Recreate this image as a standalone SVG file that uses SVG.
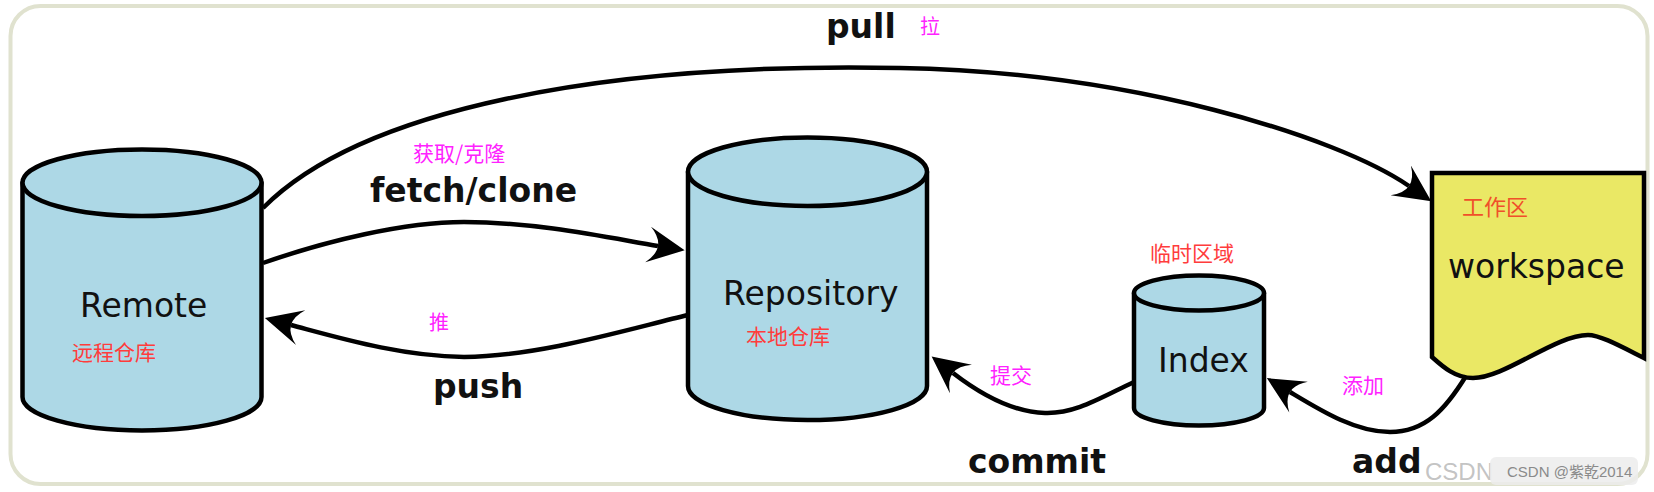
<svg xmlns="http://www.w3.org/2000/svg" width="1654" height="492" viewBox="0 0 1654 492">
<style>
.frame{fill:#ffffff;stroke:#e0e2cf;stroke-width:4}
.cyl{fill:#add8e6;stroke:#000;stroke-width:4.5;stroke-linejoin:round}
.ws{fill:#eae865;stroke:#000;stroke-width:4.5;stroke-linejoin:miter}
.conn{fill:none;stroke:#000;stroke-width:4.5}
.lbl{font-family:"DejaVu Sans","Liberation Sans",sans-serif;font-size:33px;fill:#111}
.op{font-family:"DejaVu Sans","Liberation Sans",sans-serif;font-size:33px;font-weight:bold;fill:#111}
.cn{font-family:"Noto Sans CJK SC","Noto Sans",sans-serif;font-size:21px}
.mag{fill:#ff22ff}
.red{fill:#ff3c3c}
.wm{font-family:"Liberation Sans","Noto Sans CJK SC",sans-serif}
</style>
<defs>
<marker id="ah" markerUnits="userSpaceOnUse" orient="auto" refX="0" refY="0" markerWidth="60" markerHeight="60" overflow="visible">
<path d="M27,0 L-10,18 Q10,0 -10,-18 Z" fill="#000"/>
</marker>
</defs>
<rect class="frame" x="10.5" y="6" width="1637" height="478" rx="30"/>

<g id="remote">
<path class="cyl" d="M22.5,182.75 L22.5,397 A119.5,33.5 0 0 0 261.5,397 L261.5,182.75 Z"/>
<ellipse class="cyl" cx="142" cy="182.75" rx="119.5" ry="33.25"/>
<text class="lbl" x="80" y="317">Remote</text>
<text class="cn red" x="72" y="360">远程仓库</text>
</g>

<g id="repository">
<path class="cyl" d="M688,171.75 L688,386 A119.5,34 0 0 0 927,386 L927,171.75 Z"/>
<ellipse class="cyl" cx="807.5" cy="171.75" rx="119.5" ry="34.25"/>
<text class="lbl" x="723" y="305">Repository</text>
<text class="cn red" x="746" y="344">本地仓库</text>
</g>

<g id="index">
<path class="cyl" d="M1134,293 L1134,408 A65,17.5 0 0 0 1264,408 L1264,293 Z"/>
<ellipse class="cyl" cx="1199" cy="293" rx="65" ry="17.5"/>
<text class="lbl" x="1158" y="372">Index</text>
<text class="cn red" x="1150" y="261">临时区域</text>
</g>

<g id="workspace">
<path class="ws" d="M1432,173 L1644,173 L1644,358 C1620,346 1600,335 1588,335 C1555,335 1505,378 1473,378 C1455,378 1442,366 1432,357 Z"/>
<text class="cn" x="1462" y="215" fill="#f0502a" style="font-size:22px">工作区</text>
<text class="lbl" x="1448" y="278">workspace</text>
</g>

<g id="connectors">
<path class="conn" marker-end="url(#ah)" d="M263,208 C360,110 600,62 900,68 C1130,72 1336,136 1409,186"/>
<path class="conn" marker-end="url(#ah)" d="M263,263 C326,241 404,222 464,222 C540,222 615,239 658,246"/>
<path class="conn" marker-end="url(#ah)" d="M688,315 C625,330 540,356 464,357 C400,356 340,338 291,325"/>
<path class="conn" marker-end="url(#ah)" d="M1134,382 C1100,398 1075,414 1045,413 C1010,412 975,390 953,373"/>
<path class="conn" marker-end="url(#ah)" d="M1466,376 C1445,410 1425,432 1390,432 C1355,432 1320,410 1290,392"/>
</g>

<g id="labels">
<text class="op" x="826" y="38">pull</text>
<text class="cn mag" x="920" y="34" style="font-size:20px">拉</text>
<text class="cn mag" x="413" y="161">获取/克隆</text>
<text class="op" x="370" y="202">fetch/clone</text>
<text class="cn mag" x="429" y="330" style="font-size:20px">推</text>
<text class="op" x="433" y="398">push</text>
<text class="cn mag" x="990" y="383">提交</text>
<text class="op" x="968" y="473">commit</text>
<text class="cn mag" x="1342" y="393">添加</text>
<text class="op" x="1352" y="473">add</text>
</g>

<g id="watermark">
<text class="wm" x="1425" y="480" font-size="24" fill="#b4b4b4" fill-opacity="0.8">CSDN</text>
<rect x="1490" y="457" width="148" height="28" rx="6" fill="#ececec" fill-opacity="0.85"/>
<text class="wm" x="1507" y="477" font-size="15" fill="#8a8a8a">CSDN @紫乾2014</text>
</g>
</svg>
